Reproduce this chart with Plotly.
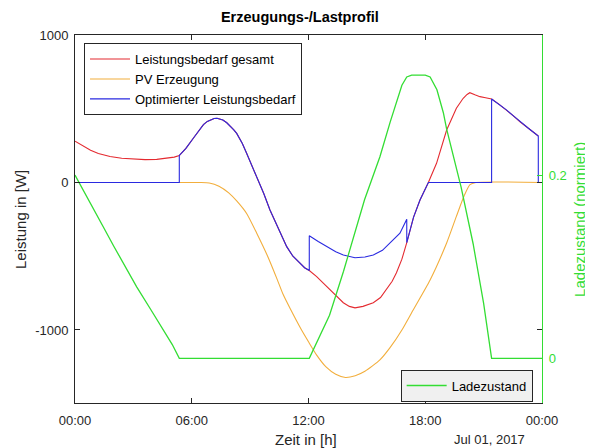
import pandas as pd
import plotly.graph_objects as go

# ---------------- data ----------------
hours_red = [0.0, 0.4, 0.8, 1.2, 1.8, 2.4, 3.0, 3.6, 4.2, 4.7, 5.1, 5.36, 5.7, 6.08, 6.4, 6.6, 6.8,
             7.0, 7.15, 7.3, 7.45, 7.6, 7.8, 8.0, 8.15, 8.31, 8.6, 8.82, 9.1, 9.34, 9.7, 10.02,
             10.5, 10.88, 11.2, 11.56, 11.8, 12.04, 12.42, 12.76, 13.27, 13.79, 14.1, 14.39,
             14.8, 15.33, 15.7, 16.01, 16.3, 16.52, 16.8, 17.05, 17.4, 17.73, 18.16, 18.58,
             19.1, 19.6, 19.95, 20.15, 20.29, 20.55, 20.81, 21.1, 21.41, 21.8, 22.17, 22.5,
             22.87, 23.3, 23.81]
bedarf_gesamt = [280, 246, 218, 197, 176, 164, 157, 155, 157, 163, 172, 183, 232, 300, 360, 392, 414,
                 428, 434, 436, 432, 423, 405, 380, 358, 333, 265, 198, 115, 39, -75, -186,
                 -330, -435, -500, -550, -578, -597, -638, -683, -750, -815, -840, -850,
                 -840, -815, -780, -725, -670, -612, -520, -408, -235, -119, 0, 130,
                 356, 503, 571, 597, 609, 595, 582, 575, 566, 530, 492, 455,
                 412, 368, 315]

hours_pv = [0.0, 6.4, 6.9, 7.4, 7.9, 8.31, 8.82, 9.34, 9.9, 10.4, 10.7, 11.05, 11.6, 12.0, 12.42,
            12.9, 13.4, 13.9, 14.4, 14.9, 15.67, 16.19, 16.8, 17.38, 18.25, 19.1, 19.6, 20.0,
            20.3, 20.6, 24.0]
pv_erzeugung = [0, 0, -3, -25, -70, -125, -210, -344, -500, -660, -760, -853, -990, -1080, -1170,
                -1250, -1300, -1322, -1310, -1280, -1203, -1120, -1000, -864, -661, -410, -230, -90,
                -15, 0, 0]

hours_opt = [0.0, 5.36, 5.36, 5.7, 6.08, 6.4, 6.6, 6.8, 7.0, 7.15, 7.3, 7.45, 7.6, 7.8, 8.0, 8.15,
             8.31, 8.6, 8.82, 9.1, 9.34, 9.7, 10.02, 10.5, 10.88, 11.2, 11.56, 11.8, 12.04, 12.04,
             12.5, 12.94, 13.4, 13.79, 14.1, 14.39, 14.9, 15.33, 15.8, 16.19, 16.7, 17.05, 17.05,
             17.4, 17.73, 18.16, 21.41, 21.41, 21.8, 22.17, 22.5, 22.87, 23.3, 23.81, 23.81, 24.0]
bedarf_optimiert = [0, 0, 183, 232, 300, 360, 392, 414, 428, 434, 436, 432, 423, 405, 380, 358,
                    333, 265, 198, 115, 39, -75, -186, -330, -435, -500, -550, -578, -597, -361,
                    -400, -435, -470, -492, -503, -510, -505, -492, -460, -412, -344, -249, -408,
                    -235, -119, 0, 0, 566, 530, 492, 455, 412, 368, 315, 0, 0]

hours_soc = [0.0, 0.5, 1.0, 1.45, 2.0, 2.5, 3.17, 3.9, 4.54, 5.0, 5.36, 12.04, 13.08, 13.8, 14.88,
             15.67, 16.2, 16.52, 16.8, 17.05, 17.3, 18.0, 18.25, 18.6, 18.93, 19.1, 19.44, 19.84,
             20.46, 21.0, 21.41, 24.0]
ladezustand = [0.2, 0.18, 0.16, 0.1436, 0.122, 0.103, 0.078, 0.053, 0.03, 0.015, 0.0, 0.0, 0.047,
               0.095, 0.173, 0.22, 0.258, 0.278, 0.298, 0.307, 0.309, 0.309, 0.307, 0.293, 0.268,
               0.25, 0.22, 0.187, 0.125, 0.06, 0.0, 0.0]

x_tick_hours = [0, 6, 12, 18, 24]
x_tick_labels = ["00:00", "06:00", "12:00", "18:00", "00:00"]
left_ticks = [-1000, 0, 1000]
right_ticks = [0, 0.2]
right_tick_labels = ["0", "0.2"]

# ---------------- figure ----------------
base = pd.Timestamp("2017-07-01 00:00:00")


def to_time(hours):
    return base + pd.to_timedelta(hours, unit="h")


FONT = "Liberation Sans, Arial, Helvetica, sans-serif"
AX = "#262626"
GREEN = "#33dd33"
LW = 1.1

fig = go.Figure()
fig.add_trace(go.Scatter(x=to_time(hours_red), y=bedarf_gesamt, mode="lines",
                         name="Leistungsbedarf gesamt", line=dict(color="#e42a30", width=LW),
                         legend="legend"))
fig.add_trace(go.Scatter(x=to_time(hours_pv), y=pv_erzeugung, mode="lines",
                         name="PV Erzeugung", line=dict(color="#f2ae3c", width=LW, shape="spline",
                                                        smoothing=0.6),
                         legend="legend"))
fig.add_trace(go.Scatter(x=to_time(hours_opt), y=bedarf_optimiert, mode="lines",
                         name="Optimierter Leistungsbedarf", line=dict(color="#2a2ae0", width=LW),
                         legend="legend"))
fig.add_trace(go.Scatter(x=to_time(hours_soc), y=ladezustand, mode="lines", name="Ladezustand",
                         line=dict(color=GREEN, width=1.3), yaxis="y2", legend="legend2"))

# the page body adds an 8 px offset, so the figure is 8 px smaller and margins compensate
fig.update_layout(
    width=585, height=440,
    margin=dict(l=67, r=51, t=27, b=45, autoexpand=False),
    paper_bgcolor="white", plot_bgcolor="white",
    font=dict(family=FONT, size=13, color=AX),
    title=dict(text="<b>Erzeugungs-/Lastprofil</b>", x=0.499, xanchor="center", y=0.98,
               yanchor="middle", font=dict(size=14.5, color="#000000")),
    xaxis=dict(type="date", range=[to_time(0), to_time(24)],
               tickvals=to_time(x_tick_hours), ticktext=x_tick_labels,
               showline=True, linecolor=AX, linewidth=1, mirror="ticks",
               ticks="inside", ticklen=5, tickcolor=AX, showgrid=False, zeroline=False,
               automargin=False, ticklabelstandoff=5),
    yaxis=dict(range=[-1495, 1000], tickvals=left_ticks, ticktext=[str(v) for v in left_ticks],
               showline=True, linecolor=AX, linewidth=1, mirror="ticks", ticks="inside",
               ticklen=5, tickcolor=AX, showgrid=False, zeroline=False, automargin=False,
               ticklabelstandoff=3),
    yaxis2=dict(overlaying="y", side="right", anchor="x", range=[-0.0488, 0.3528],
                tickvals=right_ticks, ticktext=right_tick_labels,
                showline=True, linecolor=GREEN, linewidth=1.2, ticks="inside", ticklen=5,
                tickcolor=GREEN, tickfont=dict(color=GREEN, size=13), showgrid=False,
                zeroline=False, automargin=False, ticklabelstandoff=3),
    legend=dict(x=0.0193, y=0.978, xanchor="left", yanchor="top", bgcolor="white",
                bordercolor=AX, borderwidth=1, font=dict(size=13, color="#000000"),
                tracegroupgap=0, itemwidth=40),
    legend2=dict(x=0.980, y=0.004, xanchor="right", yanchor="bottom", bgcolor="#f0f0f0",
                 bordercolor=AX, borderwidth=1, font=dict(size=13, color="#000000"),
                 itemwidth=40),
    annotations=[
        dict(text="Zeit in [h]", xref="paper", yref="paper", x=0.495, y=-0.1005,
             xanchor="center", yanchor="middle", showarrow=False,
             font=dict(size=15, color=AX)),
        dict(text="Jul 01, 2017", xref="paper", yref="paper", x=0.968, y=-0.1005,
             xanchor="right", yanchor="middle", showarrow=False,
             font=dict(size=13, color=AX)),
        dict(text="Leistung in [W]", xref="paper", yref="paper", x=-0.1178, y=0.5,
             xanchor="center", yanchor="middle", textangle=-90, showarrow=False,
             font=dict(size=15, color=AX)),
        dict(text="Ladezustand (normiert)", xref="paper", yref="paper", x=1.079, y=0.5,
             xanchor="center", yanchor="middle", textangle=-90, showarrow=False,
             font=dict(size=15, color=GREEN)),
    ],
)

fig.write_html("out.html")
